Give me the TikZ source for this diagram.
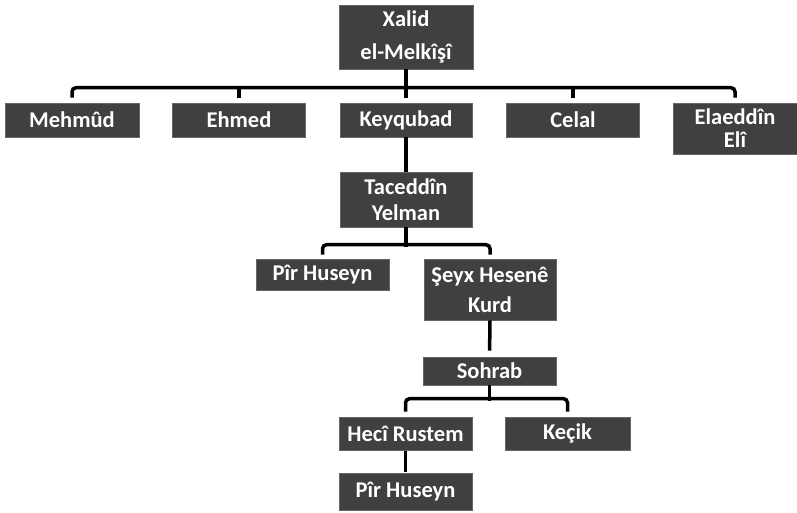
\documentclass[tikz,border=0pt]{standalone}
\usepackage{fontspec}
\setmainfont{Carlito}
\begin{document}
\begin{tikzpicture}[x=1pt,y=-1pt,
  box/.style={fill=black!75, draw=black!60, line width=0.6pt, text=white, font=\bfseries\fontsize{22.5}{26}\selectfont, align=center, inner sep=0pt, anchor=center},
  conn/.style={line width=3.5pt, black},
  rc/.style={rounded corners=4pt}]
\useasboundingbox (0,0) rectangle (797,512);
\node[box, minimum width=134, minimum height=64] (xalid) at (406,37) {Xalid\\[7pt]el-Melkîşî};
\node[box, minimum width=134, minimum height=34] (mehmud) at (72,120) {Mehmûd};
\node[box, minimum width=133, minimum height=34] (ehmed) at (239,120) {Ehmed};
\node[box, minimum width=132, minimum height=34] (keyqubad) at (406,120) {Keyqubad};
\node[box, minimum width=133, minimum height=34] (celal) at (573,120) {Celal};
\node[box, minimum width=124, minimum height=51] (elaeddin) at (735,128.5) {Elaeddîn\\[-3pt]Elî};
\node[box, minimum width=132, minimum height=55] (taceddin) at (406,199.5) {Taceddîn\\[0pt]Yelman};
\node[box, minimum width=133, minimum height=31] (pira) at (322.5,274.5) {Pîr Huseyn};
\node[box, minimum width=132, minimum height=61] (seyx) at (490,289.5) {Şeyx Hesenê\\[4pt]Kurd};
\node[box, minimum width=133, minimum height=28] (sohrab) at (489.5,371) {Sohrab};
\node[box, minimum width=133, minimum height=33] (heci) at (405.5,433.5) {Hecî Rustem};
\node[box, minimum width=125, minimum height=33] (kecik) at (567.5,433.5) {Keçik};
\node[box, minimum width=133, minimum height=37] (pirb) at (405.5,491.5) {Pîr Huseyn};
% top level
\draw[conn, shorten >=5pt] (xalid.south) -- (keyqubad.north);
\draw[conn, rc, shorten <=5pt, shorten >=5pt] (mehmud.north) -- ++(0,-15) -| (elaeddin.north);
\draw[conn, shorten <=5pt] (ehmed.north) -- ++(0,-16.5);
\draw[conn, shorten <=5pt] (celal.north) -- ++(0,-16.5);
\draw[conn] (keyqubad.south) -- (taceddin.north);
% taceddin
\draw[conn] (taceddin.south) -- ++(0,19.5);
\draw[conn, rc, shorten <=4pt, shorten >=4pt] (pira.north) -- ++(0,-14) -| (seyx.north);
\draw[conn, shorten >=6pt] (seyx.south) -- (sohrab.north);
% sohrab
\draw[conn] (sohrab.south) -- ++(0,15.5);
\draw[conn, rc, shorten <=5pt, shorten >=5pt] (heci.north) -- ++(0,-18) -| (kecik.north);
\draw[conn, shorten <=1pt, shorten >=1pt] (heci.south) -- (pirb.north);
\end{tikzpicture}
\end{document}
